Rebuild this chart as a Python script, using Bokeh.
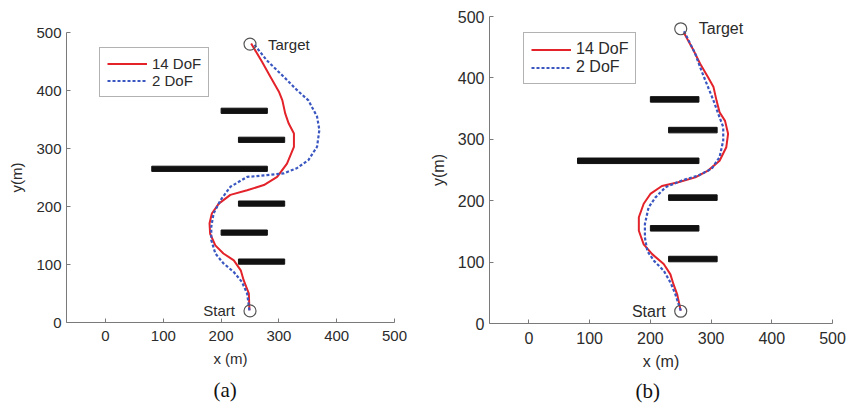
from bokeh.plotting import figure
from bokeh.layouts import row, column
from bokeh.models import Range1d, FixedTicker, Title, Legend, LegendItem
from bokeh.core.properties import value
from bokeh.embed import file_html
from bokeh.resources import INLINE

# ---------------- data ----------------
ticks = [0, 100, 200, 300, 400, 500]

obs_y = [365, 315, 265, 205, 155, 105]
obs_left = [200, 230, 80, 230, 200, 230]
obs_right = [280, 310, 280, 310, 280, 310]

marker_x = [250, 250]
marker_y = [480, 20]
target_label = ["Target"]
start_label = ["Start"]

series_names = ["14 DoF", "2 DoF"]
captions = ["(a)", "(b)"]

a14_x = [249, 248, 239, 234, 222, 204, 190, 181, 180, 184, 196, 216, 245, 274, 297, 314, 326, 326, 317, 311, 306, 300, 285, 271, 252]
a14_y = [21, 50, 73, 90, 107, 119, 133, 153, 171, 188, 205, 220, 228, 237, 251, 274, 303, 326, 343, 360, 383, 398, 424, 449, 481]

a2_x = [249, 245, 236, 222, 204, 190, 183, 183, 187, 199, 216, 245, 279, 308, 331, 351, 366, 370, 366, 351, 331, 308, 279, 256]
a2_y = [21, 50, 70, 87, 102, 119, 142, 165, 188, 211, 234, 251, 254, 257, 266, 280, 303, 332, 355, 383, 401, 424, 452, 481]

b14_x = [250, 244, 238, 233, 222, 203, 189, 181, 181, 189, 200, 219, 246, 274, 295, 314, 325, 328, 323, 314, 309, 304, 295, 282, 271, 255]
b14_y = [21, 48, 64, 80, 97, 113, 129, 151, 173, 195, 211, 224, 230, 238, 249, 265, 287, 309, 330, 344, 363, 385, 401, 423, 445, 474]

b2_x = [250, 241, 233, 222, 206, 195, 191, 191, 197, 208, 225, 252, 279, 301, 314, 320, 320, 312, 304, 295, 284, 274, 263, 255]
b2_y = [21, 48, 67, 86, 102, 118, 140, 162, 189, 205, 222, 233, 241, 252, 271, 298, 320, 341, 363, 385, 412, 439, 461, 477]

RED = "#e3222a"
BLUE = "#3a56c0"
AXIS = "#7a7a7a"
TXT = "#2b2b2b"


def panel(width, height, xmin, border, fs, x14, y14, x2, y2, leg_loc, caption, cap_offset, cap_standoff):
    bl, br, bt, bb = border
    p = figure(width=width, height=height, output_backend="svg", toolbar_location=None,
               x_range=Range1d(xmin, 500), y_range=Range1d(0, 500),
               min_border_left=bl, min_border_right=br, min_border_top=bt, min_border_bottom=bb)
    p.outline_line_color = None
    p.xgrid.visible = False
    p.ygrid.visible = False
    p.background_fill_color = "white"
    p.border_fill_color = "white"

    for ax, lab in ((p.xaxis[0], "x (m)"), (p.yaxis[0], "y(m)")):
        ax.ticker = FixedTicker(ticks=ticks)
        ax.axis_label = lab
        ax.axis_line_color = AXIS
        ax.major_tick_line_color = AXIS
        ax.major_tick_in = 4
        ax.major_tick_out = 0
        ax.minor_tick_line_color = None
        ax.major_label_text_font = "Liberation Sans"
        ax.major_label_text_font_size = fs
        ax.major_label_text_color = TXT
        ax.axis_label_text_font = "Liberation Sans"
        ax.axis_label_text_font_size = fs
        ax.axis_label_text_font_style = "normal"
        ax.axis_label_text_color = TXT
    p.xaxis[0].major_label_standoff = 8
    p.xaxis[0].axis_label_standoff = 6
    p.yaxis[0].major_label_standoff = 5
    p.yaxis[0].axis_label_standoff = 8

    p.hbar(y=obs_y, left=obs_left, right=obs_right, height=9, color="#111111")

    r14 = p.line(x14, y14, line_color=RED, line_width=2)
    r2 = p.line(x2, y2, line_color=BLUE, line_width=2.2, line_dash="3 2")

    p.scatter(marker_x, marker_y, marker="circle", size=12, fill_color=None,
              line_color="#555555", line_width=1.2)
    p.text(x=marker_x[:1], y=marker_y[:1], text=target_label, x_offset=18,
           text_baseline="middle", text_align="left",
           text_font=value("Liberation Sans"), text_font_size=fs, text_color=TXT)
    p.text(x=marker_x[1:], y=marker_y[1:], text=start_label, x_offset=-15,
           text_baseline="middle", text_align="right",
           text_font=value("Liberation Sans"), text_font_size=fs, text_color=TXT)

    leg = Legend(items=[LegendItem(label=series_names[0], renderers=[r14]),
                        LegendItem(label=series_names[1], renderers=[r2])],
                 location=leg_loc, margin=0, padding=7, spacing=0,
                 glyph_width=40, glyph_height=15, label_height=15, label_standoff=5,
                 label_text_font="Liberation Sans", label_text_font_size=fs,
                 label_text_color=TXT, label_text_line_height=1.0,
                 border_line_color="#666666", border_line_width=1,
                 background_fill_alpha=1.0)
    p.add_layout(leg, "center")

    p.add_layout(Title(text=caption, align="left", offset=cap_offset, standoff=cap_standoff,
                       text_font="Liberation Serif", text_font_size="21px",
                       text_font_style="normal", text_color="#111111"), "below")
    return p


pa = panel(426, 408, -67.5, (66, 32, 32, 86), "15px", a14_x, a14_y, a2_x, a2_y,
           (33, 225), captions[0], 147, 13)
pb = panel(431, 408, -65, (60, 25, 16, 85), "16px", b14_x, b14_y, b2_x, b2_y,
           (34, 239), captions[1], 146, 9)

layout = row(column(pa), column(pb))
open("out.html", "w").write(file_html(layout, INLINE))
